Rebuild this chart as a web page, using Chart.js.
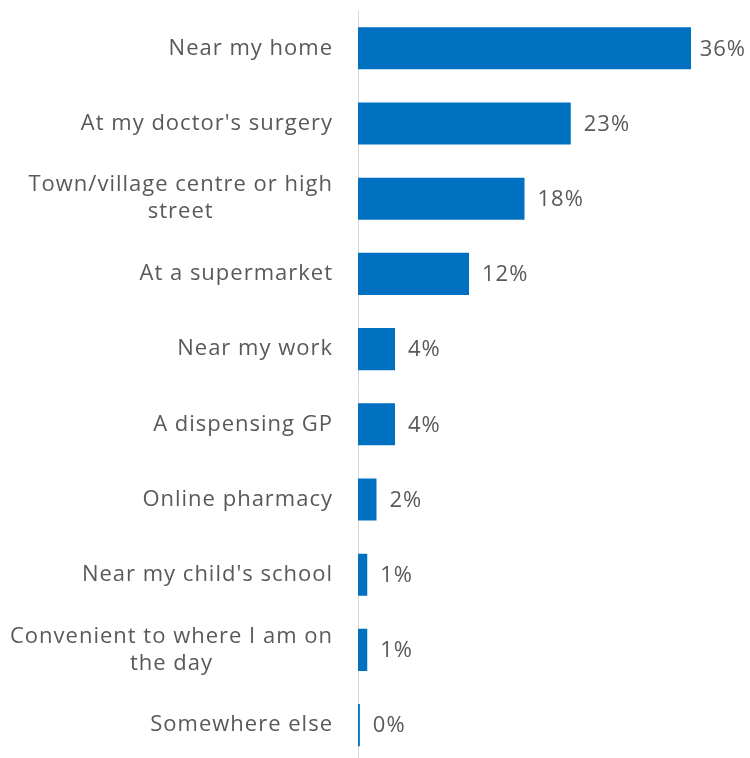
<!DOCTYPE html>
<html>
<head>
<meta charset="utf-8">
<script src="https://cdn.jsdelivr.net/npm/chart.js@4.4.0/dist/chart.umd.min.js"></script>
<style>
html,body{margin:0;padding:0;background:#fff;overflow:hidden;}
#wrap{width:750px;height:763px;position:relative;}
</style>
</head>
<body>
<div id="wrap"><canvas id="c"></canvas></div>
<script>
const categories = [
  ["Near my home"],
  ["At my doctor's surgery"],
  ["Town/village centre or high", "street"],
  ["At a supermarket"],
  ["Near my work"],
  ["A dispensing GP"],
  ["Online pharmacy"],
  ["Near my child's school"],
  ["Convenient to where I am on", "the day"],
  ["Somewhere else"]
];
const values = [36, 23, 18, 12, 4, 4, 2, 1, 1, 0.2];
const valueLabels = ["36%", "23%", "18%", "12%", "4%", "4%", "2%", "1%", "1%", "0%"];

const FONT = "'Open Sans'";
const TEXT = "#595959";

const labelPlugin = {
  id: 'labels',
  afterDatasetsDraw(chart) {
    const ctx = chart.ctx;
    const y = chart.scales.y;
    const meta = chart.getDatasetMeta(0);
    ctx.save();
    ctx.font = "22px " + FONT;
    ctx.letterSpacing = "1px";
    ctx.fillStyle = TEXT;
    ctx.textBaseline = "middle";
    const lh = 27;
    categories.forEach((lines, i) => {
      const cy = y.getPixelForValue(i);
      const widths = lines.map(l => ctx.measureText(l).width);
      const bw = Math.max(...widths);
      const right = chart.chartArea.left - 25;
      const cx = right - bw / 2;
      ctx.textAlign = "center";
      const y0 = cy - (lines.length - 1) * lh / 2;
      lines.forEach((l, k) => ctx.fillText(l, cx, y0 + k * lh));
    });
    ctx.textAlign = "left";
    meta.data.forEach((bar, i) => {
      const w = ctx.measureText(valueLabels[i]).width;
      const x = Math.min(bar.x + 13, chart.width - 4 - w);
      ctx.fillText(valueLabels[i], x, bar.y + 1);
    });
    ctx.restore();
  }
};

new Chart(document.getElementById('c'), {
  type: 'bar',
  data: {
    labels: categories.map(c => c.join(' ')),
    datasets: [{
      data: values,
      backgroundColor: '#0070C0',
      borderWidth: 0,
      barPercentage: 0.56,
      categoryPercentage: 1.0
    }]
  },
  plugins: [labelPlugin],
  options: {
    indexAxis: 'y',
    responsive: true,
    maintainAspectRatio: false,
    animation: false,
    layout: { padding: { top: 10.7, bottom: 0.3, left: 0, right: 22 } },
    plugins: { legend: { display: false }, tooltip: { enabled: false } },
    scales: {
      x: { display: false, min: 0, max: 40 },
      y: {
        display: true,
        ticks: { display: false },
        grid: { display: false },
        border: { display: true, color: '#d9d9d9', width: 1 },
        afterFit(scale) { scale.width = 358; }
      }
    }
  }
});
</script>
</body>
</html>
